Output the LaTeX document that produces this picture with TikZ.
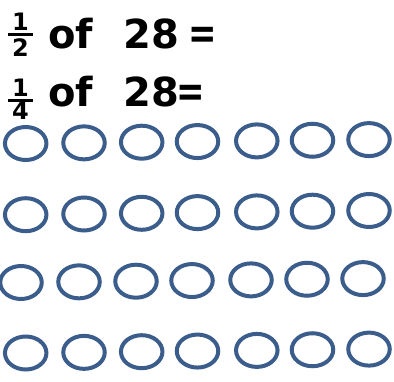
\documentclass[tikz,border=0pt]{standalone}
\usepackage{fontspec}
\setmainfont{DejaVu Sans}
\usetikzlibrary{shapes.geometric}
\definecolor{ringblue}{RGB}{59,93,140}
\tikzset{
  ring/.style={ellipse, draw=ringblue, line width=4pt, minimum width=41.5pt, minimum height=33pt, inner sep=0pt},
  bigtxt/.style={font=\fontsize{40}{44}\selectfont\bfseries, inner sep=0pt, anchor=base west},
  fracdig/.style={font=\fontsize{24}{26}\selectfont\bfseries, inner sep=0pt},
  fracbar/.style={line width=2.8pt}
}
\begin{document}
\begin{tikzpicture}[x=1pt,y=-1pt]
\useasboundingbox (0,0) rectangle (394,382);
% line 1
\node[fracdig, anchor=base] (n1) at (20.5,31) {1};
\node[fracdig, anchor=base] (d1) at (20.5,57) {2};
\coordinate (b1l) at (8,34.5);
\coordinate (b1r) at (33,34.5);
\draw[fracbar] (b1l) -- (b1r);
\node[bigtxt] (of1) at (48,49) {of};
\node[bigtxt] (num1) at (123,49) {28};
\node[bigtxt] (eq1) at (188,49) {\scalebox{0.85}[1.1]{=}};
% line 2
\node[fracdig, anchor=base] (n2) at (20.5,97) {1};
\node[fracdig, anchor=base] (d2) at (20.5,119.5) {4};
\coordinate (b2l) at (8,100.5);
\coordinate (b2r) at (33,100.5);
\draw[fracbar] (b2l) -- (b2r);
\node[bigtxt] (of2) at (48,107) {of};
\node[bigtxt] (num2) at (123,107) {28};
\node[bigtxt] (eq2) at (176,107) {\scalebox{0.85}[1.1]{=}};
% rings
\foreach \c/\x in {1/25.7,2/84,3/141.7,4/197.5,5/256.8,6/312.5,7/369}{
  \node[ring] (ra\c) at (\x,{143.5-0.65*(\c-1)}) {};
  \node[ring] (rb\c) at (\x,{214.7-0.7*(\c-1)}) {};
  \node[ring] (rd\c) at (\x,{353-0.65*(\c-1)}) {};
}
\foreach \c/\x in {1/21,2/79,3/136,4/192,5/251,6/307,7/363}{
  \node[ring] (rc\c) at (\x,{282.5-0.65*(\c-1)}) {};
}
\end{tikzpicture}
\end{document}
